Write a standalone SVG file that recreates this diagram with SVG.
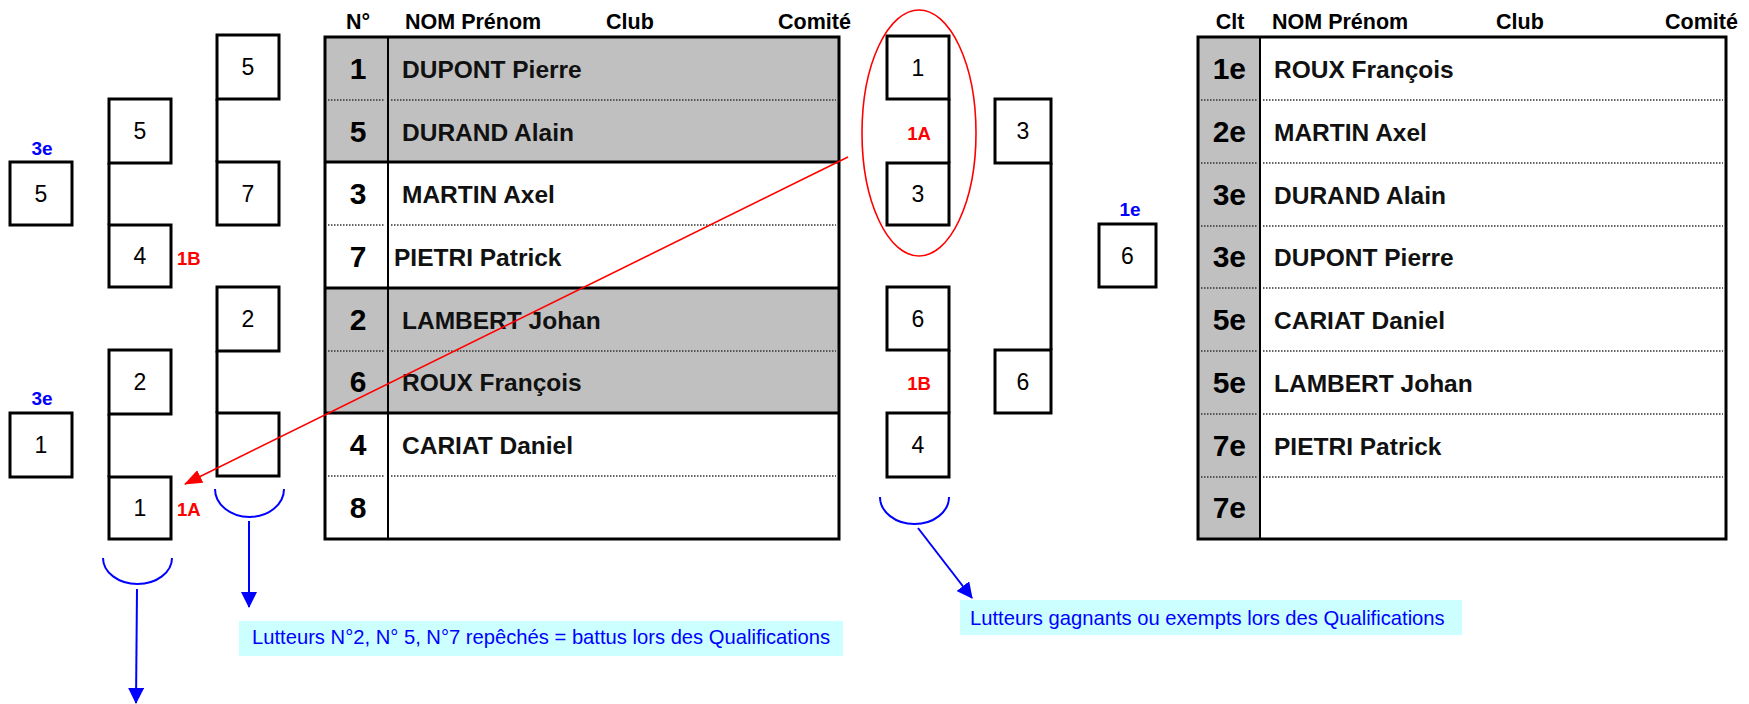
<svg xmlns="http://www.w3.org/2000/svg" width="1749" height="704" viewBox="0 0 1749 704">
<defs>
<style>
text{font-family:"Liberation Sans",Arial,sans-serif}
.box{fill:#fff;stroke:#000;stroke-width:3}
.bl{stroke:#000;stroke-width:3;fill:none}
.dg{font-size:23px;text-anchor:middle;fill:#000}
.hd{font-size:21.5px;font-weight:bold;fill:#000}
.num{font-size:30px;font-weight:bold;text-anchor:middle;fill:#000}
.clt{font-size:30px;font-weight:bold;text-anchor:end;fill:#000}
.nm{font-size:24.5px;font-weight:bold;fill:#111}
.red{font-size:18.5px;font-weight:bold;fill:#f00}
.blu{font-size:19px;font-weight:bold;fill:#00f;text-anchor:middle}
.grey{fill:#c0c0c0}
.frame{fill:none;stroke:#000;stroke-width:3}
.div{stroke:#000;stroke-width:2}
.dot{stroke:#333;stroke-width:1.3;stroke-dasharray:1.5 1.5}
.arc{fill:none;stroke:#00f;stroke-width:2}
.barrow{stroke:#00f;stroke-width:2;marker-end:url(#ab)}
.note{fill:#ccffff}
.nt{font-size:20.2px;fill:#00f}
</style>
<marker id="ab" markerUnits="userSpaceOnUse" markerWidth="16" markerHeight="16" refX="15" refY="8" orient="auto"><path d="M0,0 L16,8 L0,16 z" fill="#00f"/></marker>
<marker id="ar" markerUnits="userSpaceOnUse" markerWidth="18" markerHeight="14" refX="17" refY="7" orient="auto"><path d="M0,0 L18,7 L0,14 z" fill="#f00"/></marker>
</defs>
<rect width="1749" height="704" fill="#fff"/>

<g id="left-final-5"><text class="blu" x="42" y="155">3e</text><rect class="box" x="10" y="162" width="62" height="63"/><text class="dg" x="41" y="202">5</text></g>
<g id="left-final-1"><text class="blu" x="42" y="405">3e</text><rect class="box" x="10" y="413" width="62" height="64"/><text class="dg" x="41" y="453">1</text></g>

<g id="rep2-5"><rect class="box" x="109" y="99" width="62" height="64"/><text class="dg" x="140" y="139">5</text></g>
<g id="rep2-4"><rect class="box" x="109" y="225" width="62" height="62"/><text class="dg" x="140" y="264">4</text><text class="red" x="177" y="265">1B</text></g>
<g id="rep2-2"><rect class="box" x="109" y="350" width="62" height="64"/><text class="dg" x="140" y="390">2</text></g>
<g id="rep2-1"><rect class="box" x="109" y="477" width="62" height="62"/><text class="dg" x="140" y="516">1</text><text class="red" x="177" y="516">1A</text></g>

<g id="rep1-5"><rect class="box" x="217" y="35" width="62" height="64"/><text class="dg" x="248" y="75">5</text></g>
<g id="rep1-7"><rect class="box" x="217" y="162" width="62" height="63"/><text class="dg" x="248" y="202">7</text></g>
<g id="rep1-2"><rect class="box" x="217" y="287" width="62" height="64"/><text class="dg" x="248" y="327">2</text></g>
<g id="rep1-empty"><rect class="box" x="217" y="413" width="62" height="63"/></g>

<g id="table-draw">
<text class="hd" x="358" y="29" text-anchor="middle">N°</text>
<text class="hd" x="405" y="29">NOM Prénom</text>
<text class="hd" x="606" y="29">Club</text>
<text class="hd" x="778" y="29">Comité</text>
<rect class="grey" x="325" y="37" width="514" height="125"/>
<rect class="grey" x="325" y="288" width="514" height="125"/>
<line class="dot" x1="328" y1="100" x2="385" y2="100"/><line class="dot" x1="391" y1="100" x2="836" y2="100"/>
<line class="dot" x1="328" y1="225" x2="385" y2="225"/><line class="dot" x1="391" y1="225" x2="836" y2="225"/>
<line class="dot" x1="328" y1="351" x2="385" y2="351"/><line class="dot" x1="391" y1="351" x2="836" y2="351"/>
<line class="dot" x1="328" y1="476" x2="385" y2="476"/><line class="dot" x1="391" y1="476" x2="836" y2="476"/>
<path class="bl" d="M325,162 H839 M325,288 H839 M325,413 H839"/>
<line class="div" x1="388" y1="37" x2="388" y2="539"/>
<rect class="frame" x="325" y="37" width="514" height="502"/>
<text class="num" x="358" y="79">1</text><text class="nm" x="402" y="78">DUPONT Pierre</text>
<text class="num" x="358" y="142">5</text><text class="nm" x="402" y="141">DURAND Alain</text>
<text class="num" x="358" y="204">3</text><text class="nm" x="402" y="203">MARTIN Axel</text>
<text class="num" x="358" y="267">7</text><text class="nm" x="394" y="266">PIETRI Patrick</text>
<text class="num" x="358" y="330">2</text><text class="nm" x="402" y="329">LAMBERT Johan</text>
<text class="num" x="358" y="392">6</text><text class="nm" x="402" y="391">ROUX François</text>
<text class="num" x="358" y="455">4</text><text class="nm" x="402" y="454">CARIAT Daniel</text>
<text class="num" x="358" y="518">8</text>
</g>

<g id="qual-1"><rect class="box" x="887" y="36" width="62" height="63"/><text class="dg" x="918" y="76">1</text></g>
<g id="qual-3"><rect class="box" x="887" y="163" width="62" height="62"/><text class="dg" x="918" y="202">3</text></g>
<g id="qual-6"><rect class="box" x="887" y="287" width="62" height="63"/><text class="dg" x="918" y="327">6</text></g>
<g id="qual-4"><rect class="box" x="887" y="413" width="62" height="64"/><text class="dg" x="918" y="453">4</text></g>
<g id="label-1A"><text class="red" x="919" y="140" text-anchor="middle">1A</text><ellipse cx="919" cy="133" rx="57" ry="123" fill="none" stroke="#f00" stroke-width="1.6"/></g>
<g id="label-1B"><text class="red" x="919" y="390" text-anchor="middle">1B</text></g>
<g id="semi-3"><rect class="box" x="995" y="99" width="56" height="64"/><text class="dg" x="1023" y="139">3</text></g>
<g id="semi-6"><rect class="box" x="995" y="350" width="56" height="63"/><text class="dg" x="1023" y="390">6</text></g>
<g id="final-6"><text class="blu" x="1130" y="216">1e</text><rect class="box" x="1099" y="224" width="57" height="63"/><text class="dg" x="1127.5" y="264">6</text></g>

<g id="table-ranking">
<text class="hd" x="1230" y="29" text-anchor="middle">Clt</text>
<text class="hd" x="1272" y="29">NOM Prénom</text>
<text class="hd" x="1496" y="29">Club</text>
<text class="hd" x="1665" y="29">Comité</text>
<rect class="grey" x="1198" y="37" width="62" height="502"/>
<line class="dot" x1="1201" y1="100" x2="1257" y2="100"/><line class="dot" x1="1263" y1="100" x2="1723" y2="100"/>
<line class="dot" x1="1201" y1="163" x2="1257" y2="163"/><line class="dot" x1="1263" y1="163" x2="1723" y2="163"/>
<line class="dot" x1="1201" y1="226" x2="1257" y2="226"/><line class="dot" x1="1263" y1="226" x2="1723" y2="226"/>
<line class="dot" x1="1201" y1="288" x2="1257" y2="288"/><line class="dot" x1="1263" y1="288" x2="1723" y2="288"/>
<line class="dot" x1="1201" y1="351" x2="1257" y2="351"/><line class="dot" x1="1263" y1="351" x2="1723" y2="351"/>
<line class="dot" x1="1201" y1="414" x2="1257" y2="414"/><line class="dot" x1="1263" y1="414" x2="1723" y2="414"/>
<line class="dot" x1="1201" y1="477" x2="1257" y2="477"/><line class="dot" x1="1263" y1="477" x2="1723" y2="477"/>
<line class="div" x1="1260" y1="37" x2="1260" y2="539"/>
<rect class="frame" x="1198" y="37" width="528" height="502"/>
<text class="clt" x="1246" y="79">1e</text><text class="nm" x="1274" y="78">ROUX François</text>
<text class="clt" x="1246" y="142">2e</text><text class="nm" x="1274" y="141">MARTIN Axel</text>
<text class="clt" x="1246" y="205">3e</text><text class="nm" x="1274" y="204">DURAND Alain</text>
<text class="clt" x="1246" y="267">3e</text><text class="nm" x="1274" y="266">DUPONT Pierre</text>
<text class="clt" x="1246" y="330">5e</text><text class="nm" x="1274" y="329">CARIAT Daniel</text>
<text class="clt" x="1246" y="393">5e</text><text class="nm" x="1274" y="392">LAMBERT Johan</text>
<text class="clt" x="1246" y="456">7e</text><text class="nm" x="1274" y="455">PIETRI Patrick</text>
<text class="clt" x="1246" y="518">7e</text>
</g>

<g id="note-repeches"><rect class="note" x="239" y="621" width="604" height="35"/><text class="nt" x="252" y="644">Lutteurs N°2, N° 5, N°7 repêchés = battus lors des Qualifications</text></g>
<g id="note-gagnants"><rect class="note" x="960" y="600" width="502" height="35"/><text class="nt" x="970" y="625">Lutteurs gagnants ou exempts lors des Qualifications</text></g>

<g id="connectors">
<path class="bl" d="M109,163 V225 M109,414 V477 M217,99 V162 M217,351 V413 M949,99 V163 M949,350 V413 M1051,163 V350"/>
<line x1="848" y1="157" x2="185" y2="484" stroke="#f00" stroke-width="1.6" marker-end="url(#ar)"/>
<path class="arc" d="M103,558 A34.5,26 0 0 0 172,558"/>
<path class="arc" d="M215,489 A34.5,28 0 0 0 284,489"/>
<path class="arc" d="M880,497 A34.5,27 0 0 0 949,497"/>
<line class="barrow" x1="137" y1="589" x2="136" y2="703"/>
<line class="barrow" x1="249" y1="521" x2="249" y2="607"/>
<line class="barrow" x1="918" y1="528" x2="972" y2="598"/>
</g>
</svg>
